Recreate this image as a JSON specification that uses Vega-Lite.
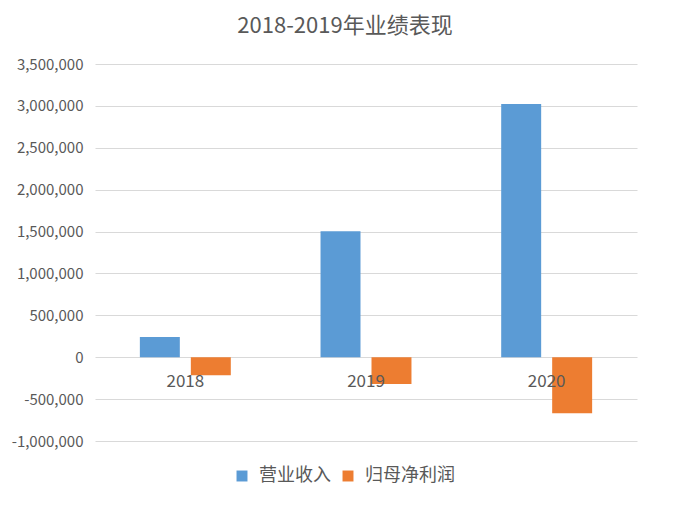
{
  "$schema": "https://vega.github.io/schema/vega-lite/v6.json",
  "width": 542,
  "height": 377,
  "autosize": "none",
  "padding": {"left": 95, "top": 64, "right": 55, "bottom": 65},
  "background": "white",
  "config": {
    "font": "Noto Sans CJK SC",
    "view": {"stroke": null}
  },
  "title": {
    "text": "2018-2019年业绩表现",
    "fontSize": 22,
    "fontWeight": "normal",
    "color": "#595959",
    "anchor": "middle",
    "dx": -21,
    "offset": 19
  },
  "layer": [
    {
      "data": {
        "values": [
          {"year": "2018", "series": "营业收入", "value": 240000},
          {"year": "2018", "series": "归母净利润", "value": -215000},
          {"year": "2019", "series": "营业收入", "value": 1505000},
          {"year": "2019", "series": "归母净利润", "value": -320000},
          {"year": "2020", "series": "营业收入", "value": 3022000},
          {"year": "2020", "series": "归母净利润", "value": -670000}
        ]
      },
      "mark": {"type": "bar"},
      "encoding": {
        "x": {
          "field": "year",
          "type": "nominal",
          "scale": {"paddingInner": 0, "paddingOuter": 0},
          "axis": null
        },
        "xOffset": {
          "field": "series",
          "type": "nominal",
          "sort": ["营业收入", "归母净利润"],
          "scale": {"paddingInner": 0.216, "paddingOuter": 0.88}
        },
        "y": {
          "field": "value",
          "type": "quantitative",
          "scale": {"domain": [-1000000, 3500000], "nice": false, "zero": false},
          "axis": {
            "title": null,
            "values": [-1000000, -500000, 0, 500000, 1000000, 1500000, 2000000, 2500000, 3000000, 3500000],
            "labelExpr": "replace(format(datum.value, ',.0f'), '−', '-')",
            "domain": false,
            "ticks": false,
            "labelPadding": 12,
            "labelFontSize": 15,
            "labelColor": "#595959",
            "gridColor": "#D9D9D9",
            "gridWidth": 1
          }
        },
        "color": {
          "field": "series",
          "type": "nominal",
          "scale": {"domain": ["营业收入", "归母净利润"], "range": ["#5B9BD5", "#ED7D31"]},
          "legend": {
            "title": null,
            "orient": "none",
            "direction": "horizontal",
            "legendX": 138,
            "legendY": 403,
            "symbolType": "square",
            "symbolSize": 120,
            "symbolStrokeWidth": 0,
            "labelFontSize": 18,
            "labelColor": "#595959",
            "labelOffset": 8,
            "columnPadding": 8
          }
        }
      }
    },
    {
      "data": {"values": [{"year": "2018"}, {"year": "2019"}, {"year": "2020"}]},
      "mark": {"type": "text", "fontSize": 17, "color": "#595959", "baseline": "middle", "dy": 25},
      "encoding": {
        "x": {"field": "year", "type": "nominal"},
        "y": {"datum": 0, "type": "quantitative"},
        "text": {"field": "year"}
      }
    }
  ]
}
